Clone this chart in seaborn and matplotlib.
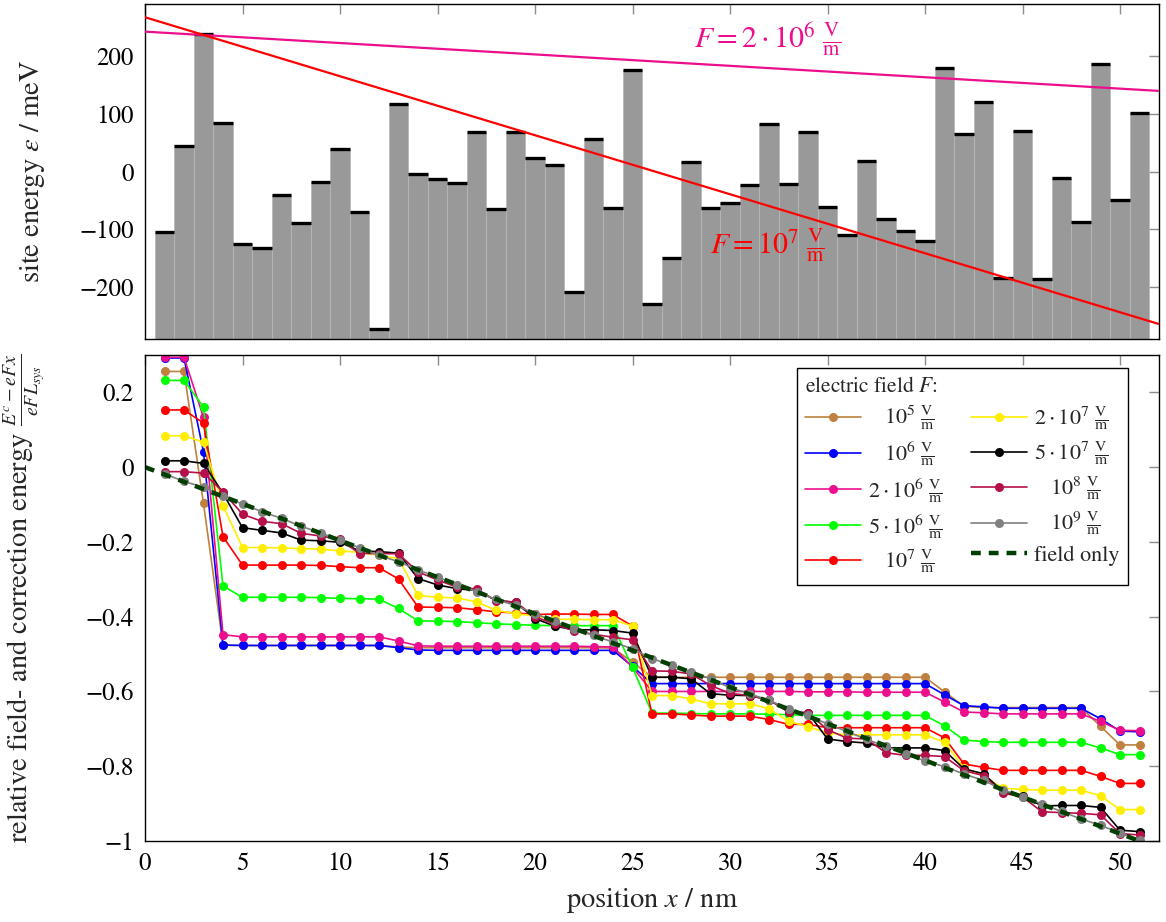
import numpy as np
import pandas as pd
import matplotlib
matplotlib.use("Agg")
import matplotlib.pyplot as plt
import seaborn as sns

# ---------------- data ----------------
sites = list(range(1, 52))

site_energy = [
    -105, 45, 239, 84, -126, -133, -41, -90, -19, 39,
    -70, -273, 117, -4, -13, -20, 68, -66, 68, 23,
    12, -210, 56, -63, 177, -231, -150, 16, -63, -54,
    -24, 82, -22, 69, -62, -111, 18, -83, -104, -120,
    180, 66, 121, -185, 70, -187, -11, -87, 187, -50,
    101]

line_x = [0, 52]
line_f1e7 = [268, -265]
line_f2e6 = [243, 140]

f_1e5 = [
    0.256, 0.256, -0.097, -0.476, -0.477,
    -0.477, -0.477, -0.477, -0.477, -0.477,
    -0.477, -0.477, -0.481, -0.483, -0.483,
    -0.483, -0.483, -0.483, -0.483, -0.483,
    -0.483, -0.483, -0.483, -0.484, -0.521,
    -0.562, -0.562, -0.562, -0.562, -0.562,
    -0.562, -0.562, -0.562, -0.562, -0.562,
    -0.562, -0.562, -0.562, -0.562, -0.562,
    -0.601, -0.640, -0.643, -0.643, -0.643,
    -0.643, -0.643, -0.643, -0.693, -0.743,
    -0.743]
f_1e6 = [
    0.292, 0.292, 0.041, -0.476, -0.477,
    -0.477, -0.477, -0.477, -0.477, -0.477,
    -0.477, -0.477, -0.483, -0.489, -0.490,
    -0.490, -0.490, -0.490, -0.490, -0.490,
    -0.490, -0.490, -0.490, -0.490, -0.533,
    -0.579, -0.579, -0.579, -0.579, -0.579,
    -0.579, -0.579, -0.579, -0.579, -0.579,
    -0.579, -0.579, -0.579, -0.579, -0.579,
    -0.609, -0.638, -0.641, -0.645, -0.645,
    -0.645, -0.645, -0.645, -0.673, -0.706,
    -0.708]
f_2e6 = [
    0.294, 0.294, 0.133, -0.448, -0.454,
    -0.454, -0.454, -0.454, -0.454, -0.454,
    -0.454, -0.454, -0.465, -0.478, -0.479,
    -0.479, -0.479, -0.479, -0.479, -0.479,
    -0.479, -0.479, -0.480, -0.481, -0.535,
    -0.600, -0.600, -0.600, -0.600, -0.600,
    -0.600, -0.600, -0.600, -0.601, -0.601,
    -0.601, -0.602, -0.602, -0.602, -0.602,
    -0.628, -0.655, -0.657, -0.660, -0.660,
    -0.660, -0.660, -0.660, -0.680, -0.704,
    -0.705]
f_5e6 = [
    0.232, 0.232, 0.161, -0.318, -0.348,
    -0.348, -0.348, -0.348, -0.349, -0.351,
    -0.352, -0.353, -0.378, -0.411, -0.412,
    -0.413, -0.416, -0.419, -0.421, -0.423,
    -0.424, -0.424, -0.424, -0.424, -0.535,
    -0.658, -0.658, -0.659, -0.660, -0.660,
    -0.660, -0.661, -0.662, -0.664, -0.664,
    -0.664, -0.664, -0.664, -0.664, -0.664,
    -0.692, -0.730, -0.734, -0.736, -0.736,
    -0.736, -0.736, -0.736, -0.751, -0.769,
    -0.769]
f_1e7 = [
    0.153, 0.153, 0.118, -0.186, -0.262,
    -0.262, -0.262, -0.262, -0.263, -0.266,
    -0.269, -0.269, -0.299, -0.374, -0.375,
    -0.376, -0.381, -0.387, -0.390, -0.394,
    -0.393, -0.393, -0.394, -0.394, -0.425,
    -0.660, -0.660, -0.663, -0.666, -0.666,
    -0.666, -0.675, -0.688, -0.688, -0.697,
    -0.697, -0.697, -0.697, -0.697, -0.697,
    -0.724, -0.794, -0.803, -0.811, -0.811,
    -0.811, -0.811, -0.811, -0.827, -0.846,
    -0.846]
f_2e7 = [
    0.084, 0.084, 0.067, -0.103, -0.215,
    -0.215, -0.216, -0.218, -0.219, -0.224,
    -0.228, -0.236, -0.245, -0.343, -0.348,
    -0.350, -0.360, -0.383, -0.392, -0.398,
    -0.407, -0.407, -0.408, -0.408, -0.425,
    -0.611, -0.611, -0.620, -0.633, -0.633,
    -0.633, -0.646, -0.680, -0.694, -0.711,
    -0.716, -0.716, -0.716, -0.716, -0.716,
    -0.736, -0.805, -0.826, -0.859, -0.862,
    -0.864, -0.864, -0.864, -0.879, -0.916,
    -0.916]
f_5e7 = [
    0.017, 0.017, 0.010, -0.070, -0.162,
    -0.169, -0.176, -0.195, -0.197, -0.201,
    -0.224, -0.226, -0.230, -0.298, -0.315,
    -0.325, -0.330, -0.356, -0.362, -0.405,
    -0.425, -0.435, -0.435, -0.437, -0.444,
    -0.562, -0.562, -0.566, -0.606, -0.610,
    -0.611, -0.622, -0.655, -0.657, -0.727,
    -0.734, -0.738, -0.751, -0.751, -0.751,
    -0.758, -0.807, -0.820, -0.868, -0.880,
    -0.906, -0.905, -0.905, -0.910, -0.971,
    -0.975]
f_1e8 = [
    -0.012, -0.012, -0.016, -0.066, -0.126,
    -0.145, -0.151, -0.177, -0.184, -0.193,
    -0.231, -0.231, -0.232, -0.280, -0.302,
    -0.321, -0.326, -0.357, -0.361, -0.400,
    -0.420, -0.438, -0.447, -0.455, -0.462,
    -0.545, -0.546, -0.553, -0.584, -0.605,
    -0.611, -0.622, -0.655, -0.657, -0.702,
    -0.725, -0.727, -0.764, -0.771, -0.771,
    -0.774, -0.812, -0.825, -0.872, -0.882,
    -0.922, -0.924, -0.926, -0.930, -0.980,
    -0.984]
f_1e9 = [
    -0.018, -0.038, -0.054, -0.076, -0.099,
    -0.119, -0.137, -0.158, -0.176, -0.195,
    -0.216, -0.236, -0.253, -0.275, -0.294,
    -0.314, -0.333, -0.354, -0.370, -0.392,
    -0.412, -0.433, -0.450, -0.468, -0.486,
    -0.512, -0.530, -0.548, -0.566, -0.590,
    -0.606, -0.624, -0.646, -0.664, -0.687,
    -0.707, -0.728, -0.747, -0.766, -0.786,
    -0.801, -0.821, -0.838, -0.863, -0.881,
    -0.901, -0.921, -0.941, -0.958, -0.979,
    -0.998]
field_x = [0, 51]
field_only = [0.0, -1.0]

V_m = r"\ \frac{\mathrm{V}}{\mathrm{m}}"
series_labels = [
    r"$\quad10^{5}" + V_m + "$",
    r"$\quad10^{6}" + V_m + "$",
    r"$2\cdot10^{6}" + V_m + "$",
    r"$5\cdot10^{6}" + V_m + "$",
    r"$\quad10^{7}" + V_m + "$",
    r"$2\cdot10^{7}" + V_m + "$",
    r"$5\cdot10^{7}" + V_m + "$",
    r"$\quad10^{8}" + V_m + "$",
    r"$\quad10^{9}" + V_m + "$",
]
series_values = [f_1e5, f_1e6, f_2e6, f_5e6, f_1e7, f_2e7, f_5e7, f_1e8, f_1e9]
series_colors = ["#BF8040", "#0000FF", "#EC0E8C", "#00FF00", "#FF0000",
                 "#FFEE00", "#000000", "#B5104A", "#808080"]

x_ticks = list(range(0, 51, 5))
top_y_ticks = [-200, -100, 0, 100, 200]
top_y_labels = ["\u2212200", "\u2212100", "0", "100", "200"]
bot_y_ticks = [-1.0, -0.8, -0.6, -0.4, -0.2, 0.0, 0.2]
bot_y_labels = ["\u22121", "\u22120.8", "\u22120.6", "\u22120.4", "\u22120.2", "0", "0.2"]

# ---------------- style ----------------
sns.set_style("white")
plt.rcParams["font.family"] = ["STIXGeneral", "DejaVu Serif"]
plt.rcParams["mathtext.fontset"] = "stix"
plt.rcParams["axes.edgecolor"] = "black"
plt.rcParams["axes.linewidth"] = 1.0

W, H = 1166, 922
fig = plt.figure(figsize=(W / 100, H / 100), dpi=100)
L, R = 145 / W, 1159 / W
ax1 = fig.add_axes([L, 1 - 339 / H, R - L, (339 - 4) / H])
ax2 = fig.add_axes([L, 1 - 841 / H, R - L, (841 - 355) / H])

for ax in (ax1, ax2):
    ax.tick_params(direction="in", top=True, right=True, length=7, width=1,
                   color="#8c8c8c", labelsize=18, labelcolor="black", pad=8)
    for s in ax.spines.values():
        s.set_color("black")
        s.set_linewidth(1.0)
    ax.set_xlim(0, 52)
    ax.set_xticks(x_ticks)

# ---------------- top panel ----------------
ymin1, ymax1 = -291, 291
ax1.set_ylim(ymin1, ymax1)
e = np.array(site_energy, dtype=float)
s = np.array(sites, dtype=float)
ax1.bar(s, e - ymin1, bottom=ymin1, width=1.0, color="#999999",
        edgecolor="#b8b8b8", linewidth=0.6, zorder=1)
ax1.hlines(e, s - 0.5, s + 0.5, colors="black", linewidth=2.4, zorder=2)
sns.lineplot(x=line_x, y=line_f2e6, color="#EC0E8C", linewidth=1.6, ax=ax1, zorder=3)
sns.lineplot(x=line_x, y=line_f1e7, color="#FF0000", linewidth=1.6, ax=ax1, zorder=3)
ax1.text(31.9, 229, r"$F = 2\cdot10^{6}" + V_m + "$", color="#EC0E8C",
         fontsize=21.5, ha="center", va="center")
ax1.text(31.9, -129, r"$F = 10^{7}" + V_m + "$", color="#FF0000",
         fontsize=21.5, ha="center", va="center")
ax1.set_yticks(top_y_ticks)
ax1.set_yticklabels(top_y_labels)
ax1.set_xticklabels([])
ax1.set_ylabel(r"site energy $\varepsilon$ / meV", fontsize=20.5)
ax1.yaxis.set_label_coords(-0.097, 0.5)

# ---------------- bottom panel ----------------
ax2.set_ylim(-1.0, 0.3)
for vals, col, lab in zip(series_values, series_colors, series_labels):
    sns.lineplot(x=sites, y=vals, color=col, linewidth=1.2, marker="o",
                 markersize=6.5, markeredgewidth=0, label=lab, ax=ax2)
sns.lineplot(x=field_x, y=field_only, color="#003F00", linewidth=3.2,
             dashes=False, ax=ax2, label="field only")
ax2.lines[-1].set_linestyle((0, (2.2, 1.8)))
ax2.set_yticks(bot_y_ticks)
ax2.set_yticklabels(bot_y_labels)
ax2.set_xticklabels([str(t) for t in x_ticks])
ax2.set_xlabel(r"position $x$ / nm", fontsize=20.5)
ax2.xaxis.set_label_coords(0.5, -0.092)
ax2.set_ylabel(r"relative field- and correction energy $\frac{E^{c}-eFx}{eFL_{sys}}$",
               fontsize=20.5)
ax2.yaxis.set_label_coords(-0.097, 0.5)

leg = ax2.legend(ncol=2, loc="upper right", bbox_to_anchor=(0.9694, 0.973),
                 borderaxespad=0, title=r"electric field $F$:", alignment="left",
                 fontsize=16, title_fontsize=15.5, frameon=True, fancybox=False,
                 edgecolor="black", framealpha=1, handlelength=2.5,
                 handletextpad=0.3, columnspacing=1.3, labelspacing=0.32,
                 borderpad=0.4, numpoints=1)
leg.get_frame().set_linewidth(1.0)

fig.savefig("out.png", dpi=100)
